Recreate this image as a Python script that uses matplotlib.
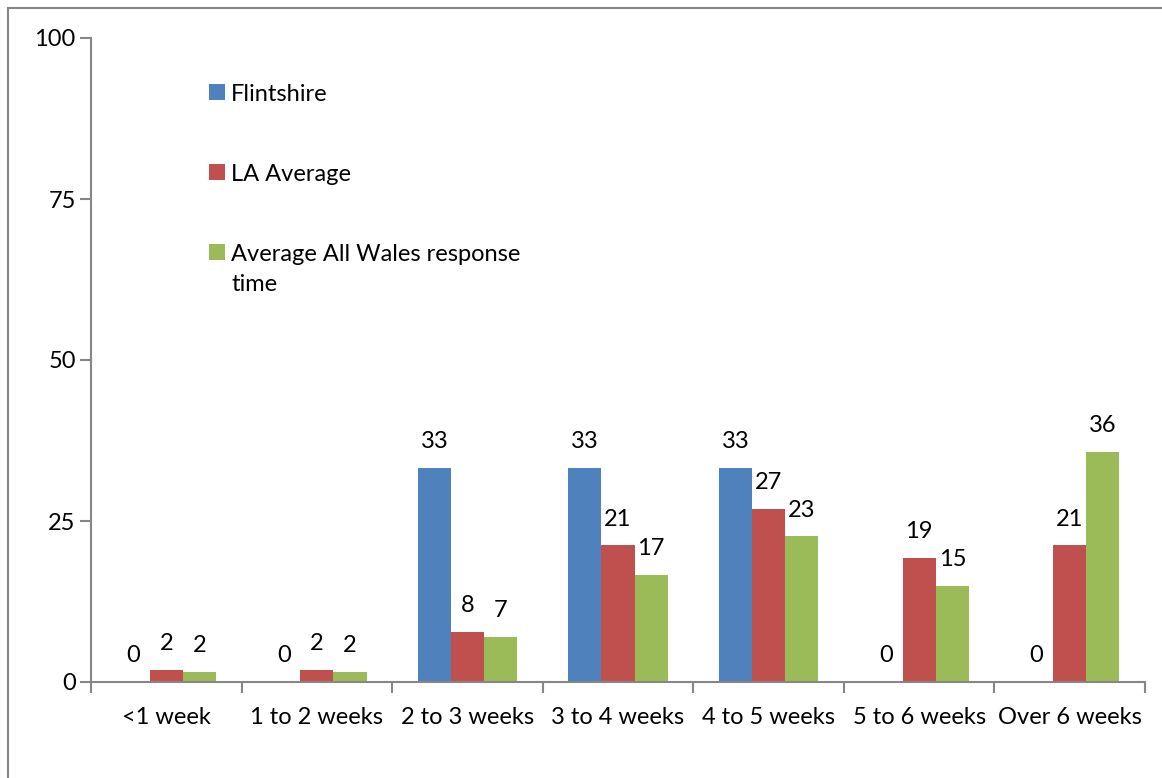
import numpy as np
import matplotlib.pyplot as plt
from matplotlib.patches import Rectangle

plt.rcParams['font.family'] = ['Lato', 'DejaVu Sans']

categories = ['<1 week', '1 to 2 weeks', '2 to 3 weeks', '3 to 4 weeks',
              '4 to 5 weeks', '5 to 6 weeks', 'Over 6 weeks']
flintshire = [0, 0, 33.3, 33.3, 33.3, 0, 0]
la_average = [1.9, 1.9, 7.8, 21.2, 26.9, 19.2, 21.2]
all_wales = [1.6, 1.6, 7.0, 16.6, 22.6, 14.9, 35.7]
series_names = ['Flintshire', 'LA Average', 'Average All Wales response\ntime']
colors = ['#4F81BD', '#C0504D', '#9BBB59']
axis_grey = '#868686'

fig = plt.figure(figsize=(11.62, 7.78), dpi=100)
ax = fig.add_axes([91 / 1162, 1 - 682 / 778, (1145 - 91) / 1162, (682 - 38) / 778])

# outer chart border
fig.patches.append(Rectangle((8 / 1162, -0.05), 1.1, 1 - 8 / 778 + 0.05,
                             transform=fig.transFigure, fill=False,
                             edgecolor=axis_grey, linewidth=1.5))

index = np.arange(len(categories))
bar_width = 0.22

for i, (vals, col, name) in enumerate(zip([flintshire, la_average, all_wales], colors, series_names)):
    bars = ax.bar(index + (i - 1) * bar_width, vals, bar_width, color=col, label=name)
    for b, v in zip(bars, vals):
        ax.annotate(f"{v:.0f}", (b.get_x() + b.get_width() / 2, v),
                    xytext=(0, 19), textcoords='offset points',
                    ha='center', va='center', fontsize=17)

ax.set_ylim(0, 100)
ax.set_xlim(-0.5, len(categories) - 0.5)
ax.set_yticks([0, 25, 50, 75, 100])
ax.set_xticks(index)
ax.set_xticklabels(categories)
ax.set_xticks(np.arange(len(categories) + 1) - 0.5, minor=True)
ax.tick_params(axis='x', which='major', length=0, pad=18, labelsize=17)
ax.tick_params(axis='x', which='minor', length=8, width=1.5, color=axis_grey, direction='out')
ax.tick_params(axis='y', length=8, width=1.5, color=axis_grey, pad=3, labelsize=17)

for s in ['top', 'right']:
    ax.spines[s].set_visible(False)
for s in ['left', 'bottom']:
    ax.spines[s].set_color(axis_grey)
    ax.spines[s].set_linewidth(1.5)

leg = ax.legend(loc='upper left', bbox_to_anchor=(0.092, 0.962), frameon=False,
                fontsize=17, labelspacing=2.5, handlelength=0.68, handleheight=0.68,
                handletextpad=0.25)
for t in leg.get_texts():
    t.set_linespacing(1.55)
# keep the swatch level with the first line of a wrapped label
for column in leg._legend_handle_box.get_children():
    for item in column.get_children():
        item.align = 'top'

fig.savefig('out.png', dpi=100)
